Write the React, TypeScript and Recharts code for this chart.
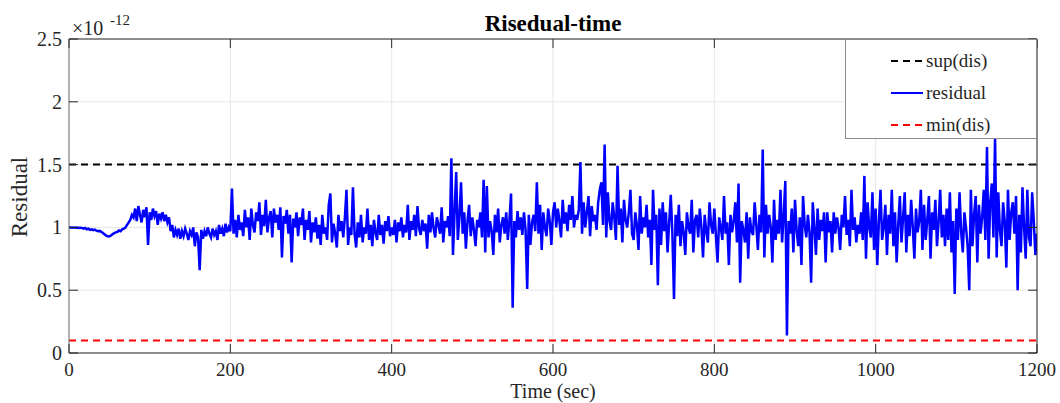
import { LineChart, Line, XAxis, YAxis, CartesianGrid, ReferenceLine, Legend } from 'recharts';

// residual, in units of 1e-12, one sample every 2 s (one row = 20 s)
const residual0to200 = [
  1.0, 1.0, 0.998, 1.0, 0.997, 0.999, 0.995, 0.998, 0.996, 0.99,
  0.995, 0.985, 0.99, 0.98, 0.985, 0.978, 0.982, 0.975, 0.97, 0.972,
  0.965, 0.955, 0.945, 0.935, 0.93, 0.928, 0.935, 0.945, 0.955, 0.96,
  0.965, 0.975, 0.97, 0.985, 0.99, 1.0, 1.02, 1.04, 1.06, 1.1,
  1.08, 1.15, 1.05, 1.17, 1.1, 1.04, 1.14, 1.08, 1.16, 0.86,
  1.12, 1.06, 1.15, 1.09, 1.13, 1.02, 1.11, 1.07, 1.12, 1.05,
  1.1, 1.04, 1.08, 0.97, 1.02, 0.92, 0.98, 0.94, 0.99, 0.91,
  0.97, 0.93, 0.99, 0.95, 0.9, 0.97, 0.94, 1.0, 0.85, 0.96,
  0.92, 0.66, 0.98, 0.91, 0.97, 0.93, 1.0, 0.95, 0.92, 0.99,
  0.94, 0.97, 0.9, 1.02, 0.95, 0.99, 0.93, 1.03, 0.96, 1.0,
];
const residual200to400 = [
  0.97, 1.31, 0.95, 1.06, 0.92, 1.1, 0.98, 1.04, 0.93, 1.14,
  1.0, 1.08, 0.9, 1.15, 1.02, 0.96, 1.12, 1.05, 1.2, 0.94,
  1.1, 1.01, 1.22, 0.96, 1.08, 1.13, 0.92, 1.15, 1.04, 1.1,
  0.98, 1.16, 0.76, 1.09, 1.03, 1.14, 0.95, 1.1, 0.72, 1.07,
  1.0, 1.12, 0.93, 1.08, 1.02, 1.15, 0.9, 1.06, 0.98, 1.13,
  0.88, 1.04, 0.96, 1.08, 0.91, 1.02, 0.86, 1.1, 0.95, 1.0,
  0.9, 1.18, 1.27, 0.88, 1.03, 0.95, 0.84, 1.1, 0.97, 1.05,
  0.92, 1.08, 1.3, 0.86, 1.0, 0.94, 1.32, 0.95, 0.84, 1.04,
  0.92, 1.1, 0.88, 1.0, 0.95, 1.15, 0.9, 1.02, 0.85, 1.06,
  0.96, 0.9, 1.1, 0.94, 1.02, 0.87, 1.05, 0.97, 1.09, 0.93,
];
const residual400to600 = [
  1.0, 0.94, 1.06, 0.88, 1.04, 0.97, 1.08, 0.92, 1.02, 0.96,
  1.18, 0.9, 1.05, 0.98, 1.1, 0.93, 1.17, 0.99, 0.94, 1.06,
  0.97, 1.03, 0.83, 1.1, 0.96, 1.12, 0.99, 0.92, 1.08, 1.02,
  0.95, 1.16, 0.88, 1.05, 1.0, 1.09, 0.93, 1.55, 0.78, 1.12,
  1.44, 0.9, 1.08, 1.36, 0.95, 1.12, 0.83, 1.05, 1.18, 0.93,
  1.08, 0.98, 0.85, 1.06, 1.0, 1.12, 0.92, 1.38, 0.8, 1.33,
  0.92, 1.05, 0.97, 0.78, 1.1, 0.96, 1.15, 0.88, 1.02, 1.08,
  0.95, 1.12, 0.9, 1.06, 1.27, 0.36, 1.05, 0.92, 1.13, 0.98,
  1.08, 0.94, 1.12, 0.98, 0.51, 1.1, 0.86, 1.04, 1.1, 0.97,
  1.36, 0.95, 1.18, 0.82, 1.12, 1.0, 0.93, 1.15, 1.05, 0.86,
];
const residual600to800 = [
  1.12, 1.2, 1.0, 1.15, 1.05, 0.92, 1.22, 1.03, 1.12, 0.97,
  1.18, 1.06, 1.25, 1.0, 1.1, 1.06, 1.14, 1.52, 0.95, 1.2,
  1.0, 1.12, 1.25, 0.93, 1.17, 1.05, 1.1, 0.98, 1.2, 1.3,
  1.36, 1.02, 1.66, 0.92, 1.28, 1.05, 0.98, 1.2, 1.08, 0.9,
  1.49, 1.02, 1.15, 0.88, 1.22, 1.06, 1.0, 1.12, 1.3, 0.95,
  0.9, 1.12, 1.02, 0.82, 1.25, 0.95, 1.08, 1.0, 1.18, 0.92,
  1.06, 0.7, 1.3, 0.98, 1.1, 0.54, 1.15, 0.86, 1.2, 0.97,
  1.12, 0.8, 1.04, 1.26, 0.95, 0.43, 1.1, 0.93, 1.18, 0.85,
  1.05, 0.96, 0.78, 1.12, 1.0, 0.95, 1.22, 0.8, 1.06, 1.1,
  0.92, 1.15, 1.0, 0.76, 1.1, 0.97, 0.88, 1.2, 1.02, 0.95,
];
const residual800to1000 = [
  1.15, 0.93, 0.72, 1.08, 1.0, 0.9, 1.25, 0.95, 1.04, 0.7,
  1.1, 0.96, 1.05, 1.2, 0.88, 1.35, 0.56, 1.05, 0.98, 0.88,
  1.12, 0.75, 1.08, 0.97, 0.94, 1.2, 1.02, 0.82, 1.1, 0.96,
  1.62, 0.76, 1.18, 0.95, 1.1, 1.0, 0.72, 1.22, 0.9, 1.06,
  0.95, 1.3, 0.88, 1.1, 1.37, 0.14, 1.05, 0.95, 1.15, 0.8,
  1.22, 0.98, 0.85, 1.08, 0.7, 1.25, 1.02, 0.92, 1.1, 0.96,
  0.56, 1.2, 1.0, 0.78, 1.15, 0.9, 1.06, 0.97, 1.12, 0.72,
  1.12, 0.96, 1.05, 0.8, 1.12, 0.95, 1.08, 1.0, 0.82, 1.1,
  1.0, 1.25, 0.94, 1.06, 0.85, 1.3, 0.98, 1.08, 0.88, 1.02,
  0.95, 1.12, 0.9, 1.41, 0.75, 1.2, 1.0, 0.92, 1.28, 0.82,
];
const residual1000to1200 = [
  1.15, 0.7, 1.05, 1.3, 0.9, 1.0, 1.18, 0.78, 1.1, 0.95,
  1.3, 0.85, 1.12, 0.72, 1.02, 1.25, 0.88, 1.08, 1.28, 0.8,
  1.1, 0.93, 1.22, 1.0, 0.75, 1.15, 0.96, 1.05, 1.3, 0.82,
  1.18, 0.9, 1.06, 1.25, 0.75, 1.12, 0.98, 1.22, 0.85, 1.04,
  1.3, 0.92, 1.1, 0.85, 1.15, 0.9, 1.28, 0.8, 1.05, 0.47,
  1.15, 0.9, 1.28, 0.96, 0.8, 1.12, 1.0, 0.85, 0.5, 1.3,
  0.85, 1.1, 1.25, 0.72, 1.18, 0.95, 1.08, 1.3, 0.9, 1.64,
  0.75, 1.2, 1.35, 0.92, 1.72, 0.76, 1.28, 0.98, 0.85, 1.2,
  1.05, 0.68, 1.3, 0.9, 1.12, 1.2, 0.95, 1.25, 0.5, 1.1,
  0.8, 1.32, 1.0, 0.75, 1.3, 0.92, 0.85, 1.28, 1.05, 0.78,
  0.95,
];

const SAMPLE_STEP = 2;
const supDis = 1.5;
const minDis = 0.1;

const xTicks = [0, 200, 400, 600, 800, 1000, 1200];
const yTicks = [0, 0.5, 1, 1.5, 2, 2.5];

const legendItems = [
  { label: 'sup(dis)', color: '#000000', dashed: true },
  { label: 'residual', color: '#0000ff', dashed: false },
  { label: 'min(dis)', color: '#ff0000', dashed: true },
];

const allResidual = [
  ...residual0to200, ...residual200to400, ...residual400to600,
  ...residual600to800, ...residual800to1000, ...residual1000to1200,
];
const data = allResidual.map((v, i) => ({ t: i * SAMPLE_STEP, residual: v }));

const W = 1060;
const H = 403;
const AXIS = '#262626';
const FONT = 'Liberation Serif, serif';
const TICK_LEN = 9;

const serif: React.CSSProperties = { fontFamily: FONT };

function BottomTick({ x, y, payload }: any) {
  return (
    <g>
      <line x1={x} x2={x} y1={y} y2={y - TICK_LEN} stroke={AXIS} strokeWidth={1} />
      <text x={x} y={y + 23} textAnchor="middle" fontSize={19} style={serif} fill={AXIS}>{payload.value}</text>
    </g>
  );
}

function TopTick({ x, y }: any) {
  return <line x1={x} x2={x} y1={y} y2={y + TICK_LEN} stroke={AXIS} strokeWidth={1} />;
}

function LeftTick({ x, y, payload }: any) {
  return (
    <g>
      <line x1={x} x2={x + TICK_LEN} y1={y} y2={y} stroke={AXIS} strokeWidth={1} />
      <text x={x - 7} y={y + 7} textAnchor="end" fontSize={20} style={serif} fill={AXIS}>{payload.value}</text>
    </g>
  );
}

function RightTick({ x, y }: any) {
  return <line x1={x} x2={x - TICK_LEN} y1={y} y2={y} stroke={AXIS} strokeWidth={1} />;
}

function LegendBox() {
  return (
    <div style={{ width: 190, height: 98, background: '#fff', border: '1px solid #8c8c8c' }}>
      <svg width={190} height={98}>
        {legendItems.map((item, i) => (
          <g key={item.label}>
            <line
              x1={45} x2={77} y1={21 + i * 32} y2={21 + i * 32}
              stroke={item.color} strokeWidth={2}
              strokeDasharray={item.dashed ? '7 5' : undefined}
            />
            <text x={80} y={27 + i * 32} fontSize={19} style={serif} fill={AXIS}>{item.label}</text>
          </g>
        ))}
      </svg>
    </div>
  );
}

export default function App() {
  return (
    <div style={{ position: 'relative', width: W, height: H, background: '#fff' }}>
      <style>{'body { margin: 0; }'}</style>
      <LineChart width={W} height={H} data={data} margin={{ top: 0, right: 0, bottom: 0, left: 0 }}>
        <CartesianGrid stroke="#e6e6e6" strokeWidth={1} xAxisId="b" yAxisId="l" />
        <XAxis
          xAxisId="b" dataKey="t" type="number" domain={[0, 1200]} ticks={xTicks} allowDataOverflow
          height={50} tickSize={0} tickMargin={0} tickLine={false} stroke={AXIS} tick={<BottomTick />} interval={0}
        />
        <XAxis
          xAxisId="t" orientation="top" dataKey="t" type="number" domain={[0, 1200]} ticks={xTicks} allowDataOverflow
          height={39} tickSize={0} tickMargin={0} tickLine={false} stroke={AXIS} tick={<TopTick />} interval={0}
        />
        <YAxis
          yAxisId="l" type="number" domain={[0, 2.5]} ticks={yTicks} allowDataOverflow
          width={69} tickSize={0} tickMargin={0} tickLine={false} stroke="#6e6e6e" tick={<LeftTick />} interval={0}
        />
        <YAxis
          yAxisId="r" orientation="right" type="number" domain={[0, 2.5]} ticks={yTicks} allowDataOverflow
          width={23} tickSize={0} tickMargin={0} tickLine={false} stroke={AXIS} tick={<RightTick />} interval={0}
        />
        <ReferenceLine xAxisId="b" yAxisId="l" y={supDis} stroke="#000" strokeWidth={2} strokeDasharray="7 5" />
        <ReferenceLine xAxisId="b" yAxisId="l" y={minDis} stroke="#ff0000" strokeWidth={2} strokeDasharray="7 5" />
        <Line
          xAxisId="b" yAxisId="l" type="linear" dataKey="residual" stroke="#0000ff" strokeWidth={2.5}
          strokeLinejoin="miter" dot={false} isAnimationActive={false}
        />
        <Legend
          layout="vertical" align="center" verticalAlign="middle"
          wrapperStyle={{ left: 845, top: 39, width: 192, height: 100 }}
          content={<LegendBox />}
        />
      </LineChart>
      <svg width={W} height={H} style={{ position: 'absolute', left: 0, top: 0, pointerEvents: 'none' }}>
        <text x={553} y={31} textAnchor="middle" fontSize={23} fontWeight="bold" style={serif} fill="#000">Risedual-time</text>
        <text x={72} y={35} fontSize={20} style={serif} fill={AXIS}>×10</text>
        <text x={110} y={25} fontSize={15} style={serif} fill={AXIS}>-12</text>
        <text x={553} y={398} textAnchor="middle" fontSize={20} style={serif} fill={AXIS}>Time (sec)</text>
        <text transform="translate(27, 197) rotate(-90)" textAnchor="middle" fontSize={23} style={serif} fill={AXIS}>Residual</text>
      </svg>
    </div>
  );
}
